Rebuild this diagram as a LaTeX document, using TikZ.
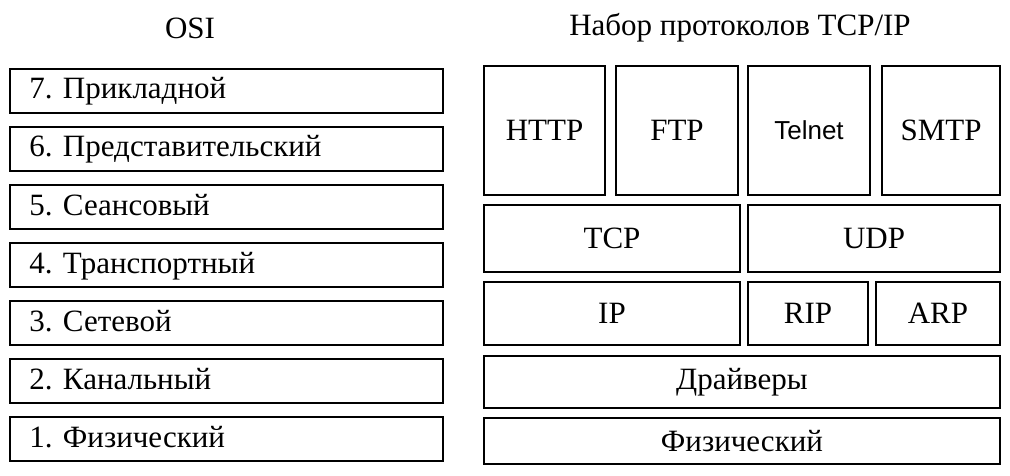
\documentclass[tikz,border=0pt]{standalone}
\usepackage{fontspec}
\setmainfont{Liberation Serif}
\newfontfamily\telnetfont{Liberation Sans}
\usetikzlibrary{positioning}
\tikzset{
  layer/.style={draw,line width=1.6pt,minimum height=44pt,minimum width=433pt,inner sep=0pt},
  lbl/.style={anchor=west,inner sep=0pt,text height=21pt,text depth=7pt,font=\fontsize{31}{34}\selectfont},
  proto/.style={draw,line width=1.6pt,inner sep=0pt,font=\fontsize{31}{34}\selectfont},
  title/.style={font=\fontsize{31}{34}\selectfont}
}
\begin{document}
\begin{tikzpicture}[x=1pt,y=-1pt]
\useasboundingbox (0,0) rectangle (1010,476);
\node[title] (osi) at (190,28) {OSI};
\node[title] (tcpip) at (740,28) {Набор протоколов TCP/IP};
% OSI layers
\foreach \n/\txt [count=\i from 0] in {7/Прикладной,6/Представительский,5/Сеансовый,4/Транспортный,3/Сетевой,2/Канальный,1/Физический} {
  \node[layer] (l\n) at (226.5,{91+58*\i}) {};
  \node[lbl] (t\n) at ([xshift=20pt,yshift=-1pt]l\n.west) {\n. \txt};
}
% TCP/IP stack
\node[proto,minimum width=121pt,minimum height=129pt] (http) at (544.5,130.5) {HTTP};
\node[proto,minimum width=122pt,minimum height=129pt] (ftp) at (677,130.5) {FTP};
\node[proto,minimum width=122pt,minimum height=129pt,font=\telnetfont\fontsize{26}{30}\selectfont] (telnet) at (809,130.5) {Telnet};
\node[proto,minimum width=118pt,minimum height=129pt] (smtp) at (941,130.5) {SMTP};
\node[proto,minimum width=256pt,minimum height=67pt] (tcp) at (612,238.5) {TCP};
\node[proto,minimum width=252pt,minimum height=67pt] (udp) at (874,238.5) {UDP};
\node[proto,minimum width=256pt,minimum height=63pt] (ip) at (612,313.5) {IP};
\node[proto,minimum width=120pt,minimum height=63pt] (rip) at (808,313.5) {RIP};
\node[proto,minimum width=124pt,minimum height=63pt] (arp) at (938,313.5) {ARP};
\node[proto,minimum width=516pt,minimum height=52pt] (drv) at (742,382) {Драйверы};
\node[proto,minimum width=516pt,minimum height=46pt] (phys) at (742,441) {Физический};
\end{tikzpicture}
\end{document}
